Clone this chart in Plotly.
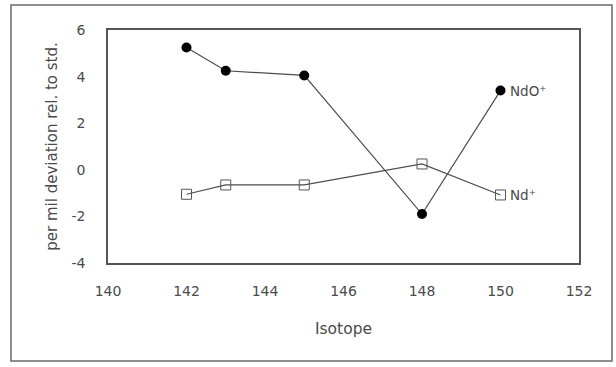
import plotly.graph_objects as go

isotopes = [142, 143, 145, 148, 150]
ndo_values = [5.25, 4.25, 4.05, -1.9, 3.4]
nd_values = [-1.05, -0.65, -0.65, 0.25, -1.08]
series_labels = ["NdO\u207a", "Nd\u207a"]
x_ticks = [140, 142, 144, 146, 148, 150, 152]
y_ticks = [-4, -2, 0, 2, 4, 6]
y_tick_labels = ["-4", "-2", "0", "2", "4", "6"]

FONT = "DejaVu Sans, sans-serif"
TXT = "#4a4a4a"
LINE = "#4d4d4d"

fig = go.Figure()
fig.add_trace(go.Scatter(
    x=isotopes, y=ndo_values, mode="lines+markers",
    line=dict(color=LINE, width=1.2),
    marker=dict(symbol="circle", size=10, color="black"),
    showlegend=False))
fig.add_trace(go.Scatter(
    x=isotopes, y=nd_values, mode="lines+markers",
    line=dict(color=LINE, width=1.2),
    marker=dict(symbol="square-open", size=10, color="#555555", line=dict(width=1)),
    showlegend=False))

fig.add_annotation(x=isotopes[-1], y=ndo_values[-1], text=series_labels[0],
                   xanchor="left", xshift=7, showarrow=False,
                   font=dict(family=FONT, size=13.5, color=TXT))
fig.add_annotation(x=isotopes[-1], y=nd_values[-1], text=series_labels[1],
                   xanchor="left", xshift=7, showarrow=False,
                   font=dict(family=FONT, size=13.5, color=TXT))

fig.add_shape(type="rect", xref="paper", yref="paper",
              x0=-0.206, x1=1.070, y0=-0.421, y1=1.107,
              line=dict(color="#6a6a6a", width=1.5))

fig.update_xaxes(range=[140, 152], tickvals=x_ticks, showgrid=False,
                 zeroline=False, showline=True, mirror=True,
                 linecolor="#555555", linewidth=1.5,
                 tickfont=dict(family=FONT, size=14, color=TXT),
                 ticklabelstandoff=14,
                 title=dict(text="Isotope", font=dict(family=FONT, size=15.5, color=TXT),
                            standoff=26))
fig.update_yaxes(range=[-4, 6], tickvals=y_ticks, ticktext=y_tick_labels,
                 showgrid=False,
                 zeroline=False, showline=True, mirror=True,
                 linecolor="#555555", linewidth=1.5,
                 tickfont=dict(family=FONT, size=14, color=TXT),
                 ticklabelstandoff=18,
                 title=dict(text="per mil deviation rel. to std.",
                            font=dict(family=FONT, size=15, color=TXT),
                            standoff=10))

fig.update_layout(width=616, height=367,
                  margin=dict(l=108, r=37, t=30, b=104),
                  paper_bgcolor="white", plot_bgcolor="white")

fig.write_html("out.html", config={"displayModeBar": False},
               post_script="document.body.style.margin='0';")
